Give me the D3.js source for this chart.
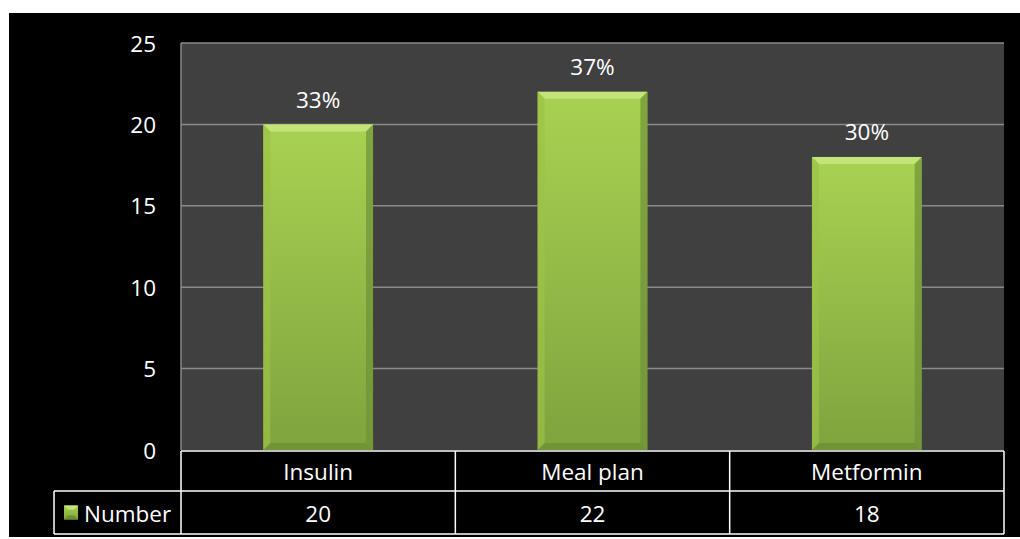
<!DOCTYPE html>
<meta charset="utf-8">
<script src="https://d3js.org/d3.v7.min.js"></script>
<style>
  body { margin: 0; background: #fff; }
  text { font-family: "Open Sans", Lato, sans-serif; fill: #fff; }
</style>
<div id="chart"></div>
<script>
const categories = ["Insulin", "Meal plan", "Metformin"];
const values = [20, 22, 18];
const percents = ["33%", "37%", "30%"];
const seriesName = "Number";
const yTicks = [0, 5, 10, 15, 20, 25];

const width = 1020, height = 539;
const plot = {left: 181, right: 1004, top: 43, bottom: 450};
const legendLeft = 54;
const row1 = 491, row2 = 534;
const fs = "22.5px";

const svg = d3.select("#chart").append("svg")
    .attr("width", width).attr("height", height);

const defs = svg.append("defs");
const grad = defs.append("linearGradient").attr("id", "barGrad")
    .attr("x1", 0).attr("y1", 0).attr("x2", 0).attr("y2", 1);
grad.append("stop").attr("offset", "0%").attr("stop-color", "#a9d252");
grad.append("stop").attr("offset", "100%").attr("stop-color", "#7fa33e");

svg.append("rect").attr("x", 9).attr("y", 13).attr("width", 1011).attr("height", 524).attr("fill", "#000");

const x = d3.scaleBand().domain(categories).range([plot.left, plot.right]).paddingInner(0).paddingOuter(0);
const y = d3.scaleLinear().domain([0, 25]).range([plot.bottom, plot.top]);

svg.append("rect").attr("x", plot.left).attr("y", plot.top)
    .attr("width", plot.right - plot.left).attr("height", plot.bottom - plot.top)
    .attr("fill", "#404040");

// gridlines
svg.append("g").selectAll("line").data(yTicks.filter(d => d > 0)).join("line")
    .attr("x1", plot.left).attr("x2", plot.right)
    .attr("y1", d => y(d)).attr("y2", d => y(d))
    .attr("stroke", "#8a8a8a").attr("stroke-width", 1.5);

svg.append("line").attr("x1", plot.left).attr("x2", plot.left)
    .attr("y1", plot.top).attr("y2", plot.bottom)
    .attr("stroke", "#8a8a8a").attr("stroke-width", 1.5);

// y axis labels
svg.append("g").selectAll("text").data(yTicks).join("text")
    .attr("x", 156).attr("y", d => y(d))
    .attr("text-anchor", "end").attr("dominant-baseline", "central")
    .style("font-size", fs).text(d => d);

// bars with bevel
const bw = x.bandwidth() * 0.4;
const bev = 7;
const bars = svg.append("g").selectAll("g").data(values).join("g")
    .attr("transform", (d, i) => `translate(${x(categories[i]) + (x.bandwidth() - bw) / 2},0)`);
bars.append("rect").attr("x", 0).attr("y", d => y(d))
    .attr("width", bw).attr("height", d => y(0) - y(d)).attr("fill", "url(#barGrad)");
bars.append("path").attr("fill", "#c4e57c").attr("opacity", 0.9)
    .attr("d", d => `M0,${y(d)} L${bw},${y(d)} L${bw - bev},${y(d) + bev} L${bev},${y(d) + bev} Z`);
bars.append("path").attr("fill", "#6c8e33").attr("opacity", 0.8)
    .attr("d", d => `M0,${y(0)} L${bw},${y(0)} L${bw - bev},${y(0) - bev} L${bev},${y(0) - bev} Z`);
bars.append("path").attr("fill", "#9cc246").attr("opacity", 0.7)
    .attr("d", d => `M0,${y(d)} L${bev},${y(d) + bev} L${bev},${y(0) - bev} L0,${y(0)} Z`);
bars.append("path").attr("fill", "#6f9236").attr("opacity", 0.7)
    .attr("d", d => `M${bw},${y(d)} L${bw - bev},${y(d) + bev} L${bw - bev},${y(0) - bev} L${bw},${y(0)} Z`);

// data labels
svg.append("g").selectAll("text").data(values).join("text")
    .attr("x", (d, i) => x(categories[i]) + x.bandwidth() / 2)
    .attr("y", d => y(d) - 25)
    .attr("text-anchor", "middle").attr("dominant-baseline", "central")
    .style("font-size", fs).text((d, i) => percents[i]);

// data table
const tbl = svg.append("g").attr("stroke", "#fff").attr("stroke-width", 1.5).attr("fill", "none");
tbl.append("line").attr("x1", plot.left).attr("x2", plot.right).attr("y1", plot.bottom + 1).attr("y2", plot.bottom + 1);
tbl.append("line").attr("x1", legendLeft).attr("x2", plot.right).attr("y1", row1).attr("y2", row1);
tbl.append("line").attr("x1", legendLeft).attr("x2", plot.right).attr("y1", row2).attr("y2", row2);
tbl.append("line").attr("x1", legendLeft).attr("x2", legendLeft).attr("y1", row1).attr("y2", row2);
const cols = categories.map(c => x(c)).concat([plot.right]);
tbl.selectAll("line.col").data(cols).join("line").attr("class", "col")
    .attr("x1", d => d).attr("x2", d => d).attr("y1", plot.bottom + 1).attr("y2", row2);

svg.append("g").selectAll("text").data(categories).join("text")
    .attr("x", d => x(d) + x.bandwidth() / 2).attr("y", (plot.bottom + row1) / 2 + 1)
    .attr("text-anchor", "middle").attr("dominant-baseline", "central")
    .style("font-size", fs).text(d => d);
svg.append("g").selectAll("text").data(values).join("text")
    .attr("x", (d, i) => x(categories[i]) + x.bandwidth() / 2).attr("y", (row1 + row2) / 2 + 1)
    .attr("text-anchor", "middle").attr("dominant-baseline", "central")
    .style("font-size", fs).text(d => d);

// legend key
const key = svg.append("g").attr("transform", `translate(64,${(row1 + row2) / 2 - 7})`);
key.append("rect").attr("width", 14).attr("height", 14).attr("fill", "url(#barGrad)");
key.append("path").attr("fill", "#c4e57c").attr("d", "M0,0 L14,0 L10,4 L4,4 Z");
key.append("path").attr("fill", "#6c8e33").attr("d", "M0,14 L14,14 L10,10 L4,10 Z");
svg.append("text").attr("x", 84).attr("y", (row1 + row2) / 2 + 1)
    .attr("dominant-baseline", "central").style("font-size", fs).text(seriesName);
</script>
